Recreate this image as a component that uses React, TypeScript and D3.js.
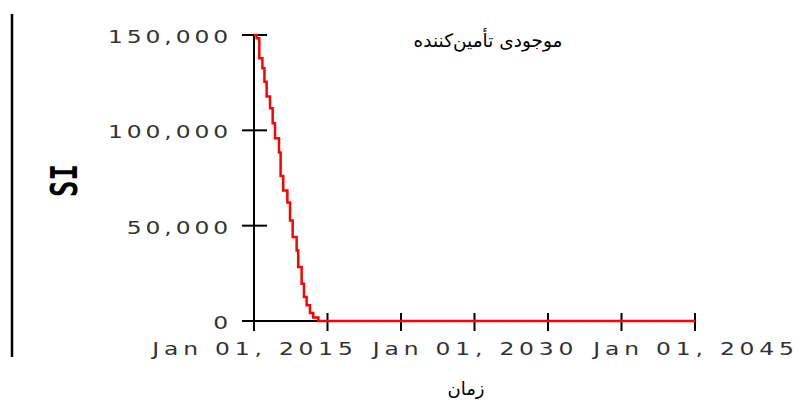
import React from "react";
import * as d3 from "d3";

// decimal years and stock values (stepped)
const years = [2015, 2015.18, 2015.36, 2015.57, 2015.71, 2015.86, 2016.09, 2016.27, 2016.43, 2016.7, 2016.81, 2016.99, 2017.27, 2017.45, 2017.63, 2017.9, 2018.01, 2018.24, 2018.4, 2018.58, 2018.81, 2019.03, 2019.38, 2045];
const values = [150000, 148300, 137800, 132500, 125500, 117700, 111600, 103700, 95900, 88400, 76100, 68400, 62100, 52700, 44000, 37000, 28300, 19500, 12600, 8200, 4200, 1900, 0, 0];

const yTicks = [0, 50000, 100000, 150000];
const xTicks = [2015, 2020, 2025, 2030, 2035, 2040, 2045];
const xLabelYears = [2015, 2030, 2045];

const title = "موجودی تأمین‌کننده";
const xTitle = "زمان";
const yTitle = "SI";

export default function App() {
  const x = d3.scaleLinear().domain([2015, 2045]).range([254, 695]);
  const y = d3.scaleLinear().domain([0, 150000]).range([321, 35]);
  const data = years.map((t, i) => ({ t, v: values[i] }));
  const line = d3
    .line<{ t: number; v: number }>()
    .x((d) => x(d.t))
    .y((d) => y(d.v))
    .curve(d3.curveStepAfter);
  const fmt = d3.format(",");
  const tickFont = "'DejaVu Sans', sans-serif";
  return (
    <svg width={811} height={401} style={{ position: "absolute", left: 0, top: 0, background: "#fff" }}>
      <rect x={0} y={0} width={811} height={401} fill="#fff" />
      <line x1={12} x2={12} y1={14} y2={357} stroke="#000" strokeWidth={2.5} />
      {/* y axis */}
      <line x1={254} x2={254} y1={y(150000)} y2={331} stroke="#000" strokeWidth={2} />
      {yTicks.map((t) => (
        <g key={t}>
          <line x1={242} x2={267} y1={y(t)} y2={y(t)} stroke="#000" strokeWidth={2} />
          <text
            transform={`translate(232,${y(t) + 8}) scale(1.3,1)`}
            textAnchor="end"
            fontFamily={tickFont}
            fontSize={18}
            letterSpacing={3}
            fill="#333"
          >
            {fmt(t)}
          </text>
        </g>
      ))}
      {/* x axis */}
      <line x1={254} x2={x(2045)} y1={y(0)} y2={y(0)} stroke="#000" strokeWidth={2} />
      {xTicks.map((t) => (
        <line key={t} x1={x(t)} x2={x(t)} y1={313} y2={331} stroke="#000" strokeWidth={2} />
      ))}
      {xLabelYears.map((t) => (
        <text
          key={t}
          transform={`translate(${x(t) + 1},355) scale(1.3,1)`}
          textAnchor="middle"
          fontFamily={tickFont}
          fontSize={18}
          letterSpacing={3.7}
          fill="#333"
        >
          {`Jan 01, ${t}`}
        </text>
      ))}
      <path d={line(data) || ""} fill="none" stroke="#ff0000" strokeWidth={2.5} />
      <text x={488} y={47} textAnchor="middle" fontFamily="'DejaVu Sans', sans-serif" fontSize={18.5} fill="#000" direction="rtl">
        {title}
      </text>
      <text x={466} y={395} textAnchor="middle" fontFamily="'DejaVu Sans', sans-serif" fontSize={18} fill="#000" direction="rtl">
        {xTitle}
      </text>
      <text
        transform="translate(77,180.5) rotate(-90) scale(0.72,1)"
        textAnchor="middle"
        fontFamily="'DejaVu Sans Mono', monospace"
        fontWeight="bold"
        fontSize={38}
        fill="#000"
      >
        {yTitle}
      </text>
    </svg>
  );
}
